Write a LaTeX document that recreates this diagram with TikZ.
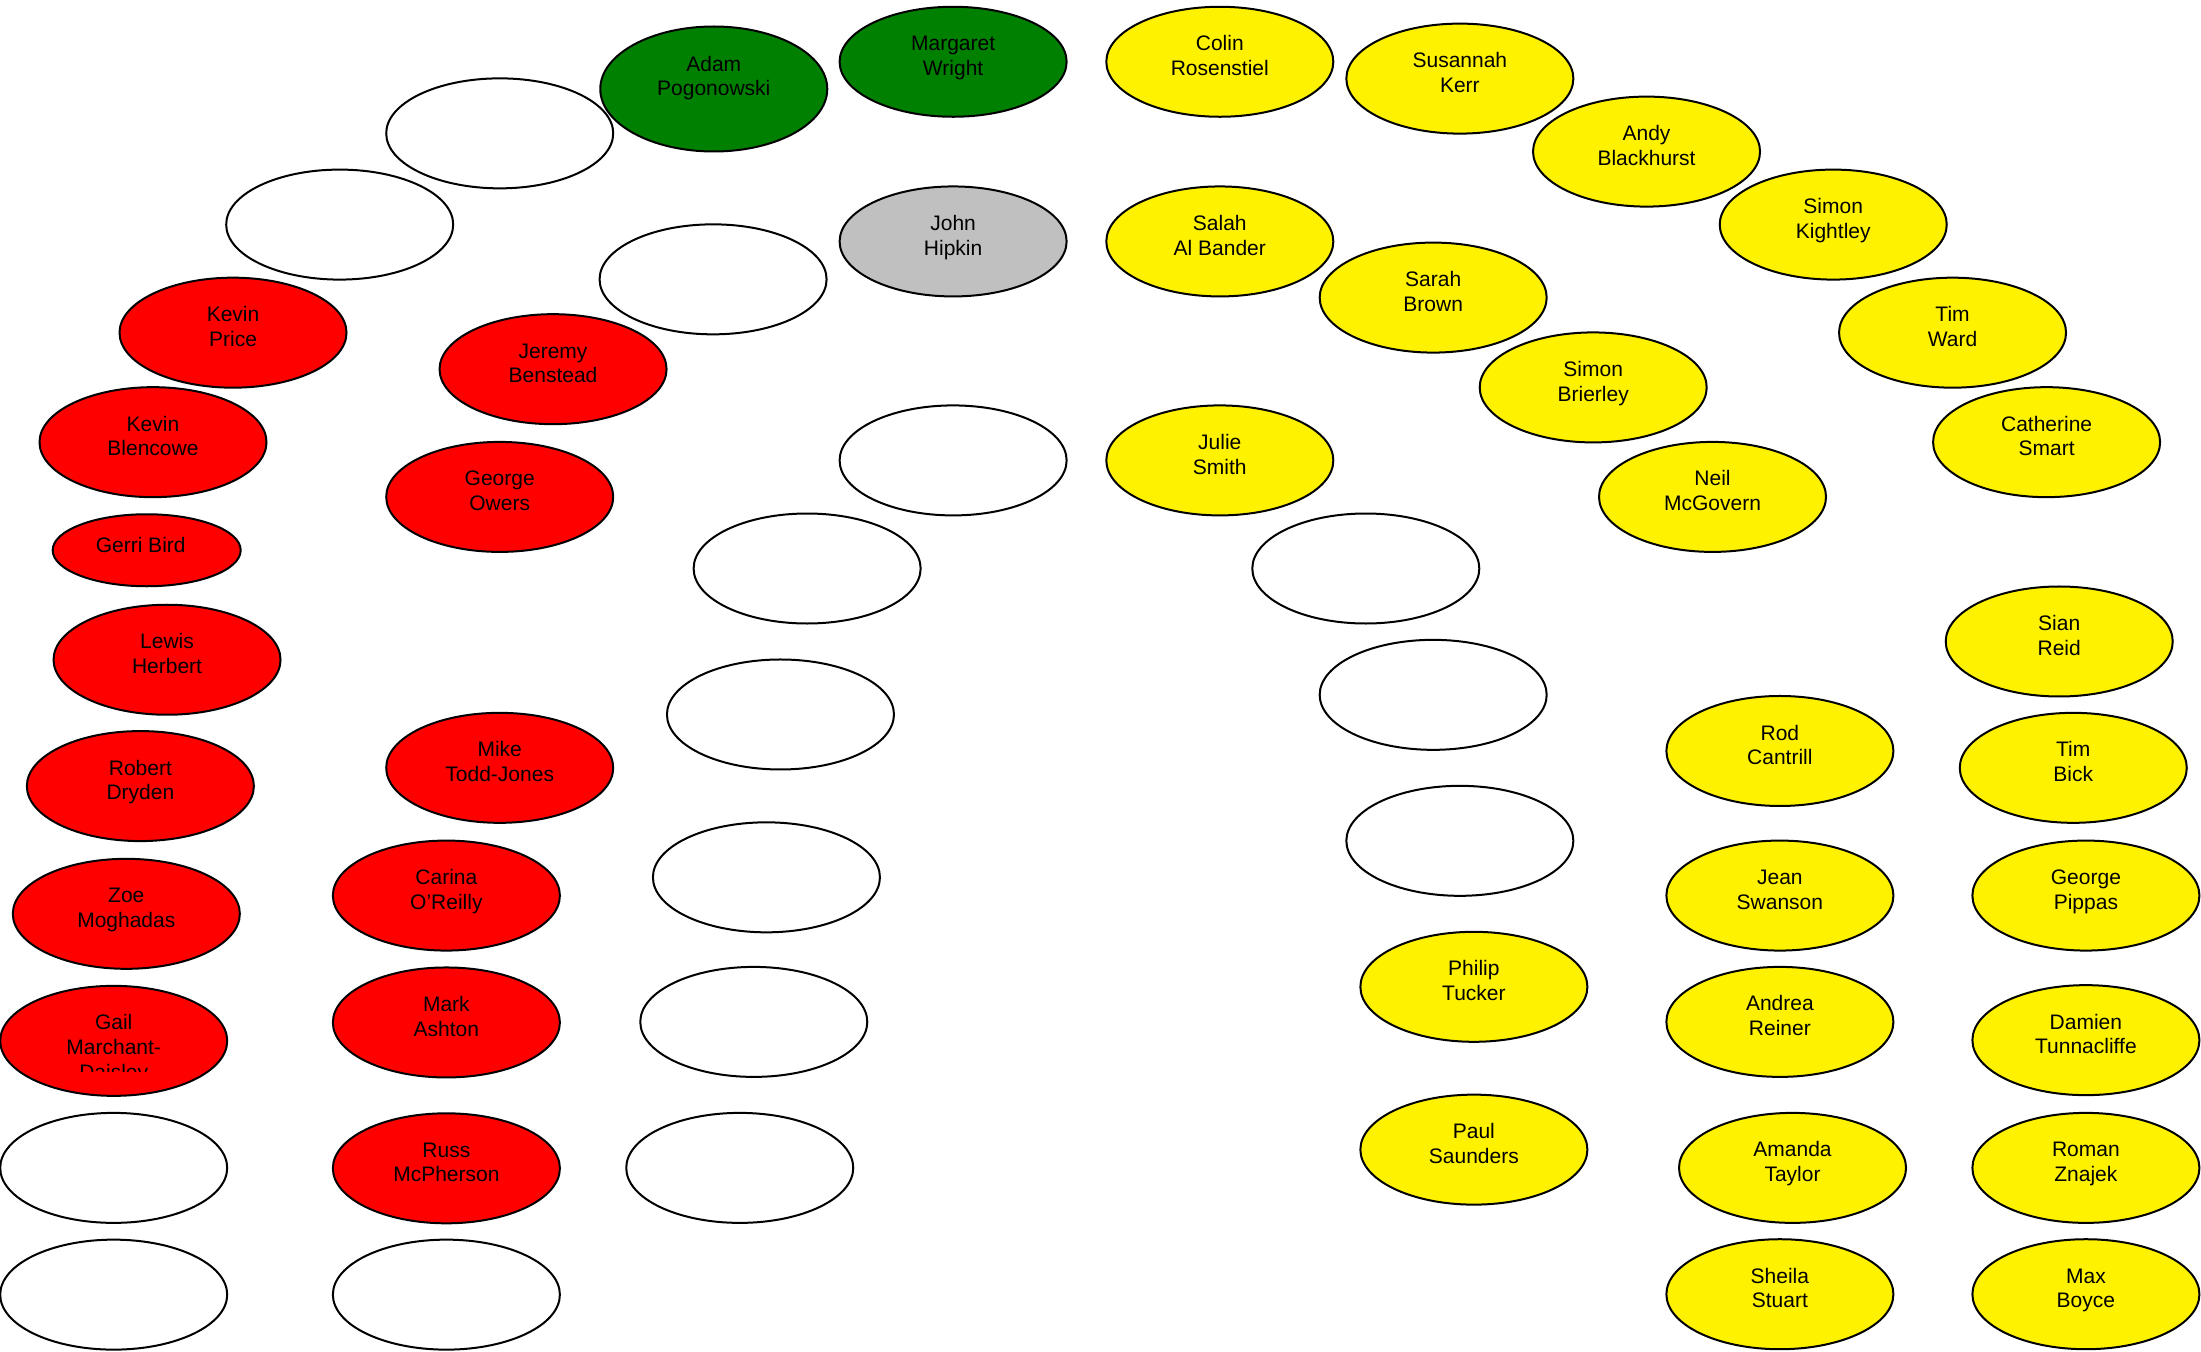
\documentclass[tikz,border=0pt]{standalone}
\usepackage{fontspec}
\setmainfont{Liberation Sans}
\usetikzlibrary{shapes.geometric}
\definecolor{grn}{RGB}{0,128,0}
\definecolor{silver}{RGB}{192,192,192}
\newcommand{\seatname}[2][28.2pt]{\parbox[c][#1][t]{78pt}{\centering\strut#2}}

\begin{document}
\begin{tikzpicture}[x=0.70185pt,y=-0.70185pt,
  seat/.style={ellipse,draw,line width=1pt,minimum width=113.5pt,minimum height=55pt,inner sep=0pt,font=\fontsize{10.5}{12.3}\selectfont},
  labour/.style={seat,fill=red},
  libdem/.style={seat,fill=yellow},
  greens/.style={seat,fill=grn},
  indep/.style={seat,fill=silver},
  vacant/.style={seat,fill=white}]
\useasboundingbox (0,0) rectangle (1568,963);

\node[greens,minimum height=62.5pt] (adam) at (508.5,63.4) {\seatname[35.2pt]{Adam\\Pogonowski}}; %green
\node[greens] (margaret) at (679,44) {\seatname{Margaret\\Wright}};
\node[indep] (hipkin) at (679,172) {\seatname{John\\Hipkin}}; %independent

\node[labour] (kprice) at (166,237) {\seatname{Kevin\\Price}}; %labour
\node[labour] (benstead) at (394,263) {\seatname{Jeremy\\Benstead}};
\node[labour] (blencowe) at (109,315) {\seatname{Kevin\\Blencowe}};
\node[labour] (owers) at (356,354) {\seatname{George\\Owers}};
\node[labour,minimum width=94pt,minimum height=36pt,text height=7.5pt,text depth=5.5pt] (bird) at (104.5,392) {Gerri Bird\kern6pt};
\node[labour] (herbert) at (119,470) {\seatname{Lewis\\Herbert}};
\node[labour] (dryden) at (100,560) {\seatname{Robert\\Dryden}};
\node[labour] (toddjones) at (356,547) {\seatname{Mike\\Todd-Jones}};
\node[labour] (moghadas) at (90,651) {\seatname{Zoe\\Moghadas}};
\node[labour] (oreilly) at (318,638) {\seatname{Carina\\O'Reilly}};
\node[labour] (gail) at (81,741.5) {};
\begin{scope}
\clip ([shift={(-50pt,-15.5pt)}]gail.center) rectangle ([shift={(50pt,30pt)}]gail.center);
\node[seat,draw=none] (gailtext) at (gail.center) {\seatname{Gail\\Marchant-\\Daisley}};
\end{scope}
\node[labour] (ashton) at (318,728.4) {\seatname{Mark\\Ashton}};
\node[labour] (mcpherson) at (318,832.3) {\seatname{Russ\\McPherson}};

\node[libdem] (rosenstiel) at (869,44) {\seatname{Colin\\Rosenstiel}}; %lib dem
\node[libdem] (kerr) at (1040,56) {\seatname{Susannah\\Kerr}};
\node[libdem] (blackhurst) at (1173,108) {\seatname{Andy\\Blackhurst}};
\node[libdem] (kightley) at (1306,160) {\seatname{Simon\\Kightley}};
\node[libdem] (albander) at (869,172) {\seatname{Salah\\Al Bander}};
\node[libdem] (brown) at (1021,212) {\seatname{Sarah\\Brown}};
\node[libdem] (ward) at (1391,237) {\seatname{Tim\\Ward}};
\node[libdem] (brierley) at (1135,276) {\seatname{Simon\\Brierley}};
\node[libdem] (smart) at (1458,315) {\seatname{Catherine\\Smart}};
\node[libdem] (smith) at (869,328) {\seatname{Julie\\Smith}};
\node[libdem] (mcgovern) at (1220,354) {\seatname{Neil\\McGovern}};
\node[libdem] (reid) at (1467,457) {\seatname{Sian\\Reid}};
\node[libdem] (cantrill) at (1268,535) {\seatname{Rod\\Cantrill}};
\node[libdem] (bick) at (1477,547) {\seatname{Tim\\Bick}};
\node[libdem] (swanson) at (1268,638) {\seatname{Jean\\Swanson}};
\node[libdem] (pippas) at (1486,638) {\seatname{George\\Pippas}};
\node[libdem] (tucker) at (1050,703) {\seatname{Philip\\Tucker}};
\node[libdem] (reiner) at (1268,728) {\seatname{Andrea\\Reiner}};
\node[libdem] (tunnacliffe) at (1486,741) {\seatname{Damien\\Tunnacliffe}};
\node[libdem] (saunders) at (1050,819) {\seatname{Paul\\Saunders}};
\node[libdem] (taylor) at (1277,832) {\seatname{Amanda\\Taylor}};
\node[libdem] (znajek) at (1486,832) {\seatname{Roman\\Znajek}};
\node[libdem] (stuart) at (1268,922) {\seatname{Sheila\\Stuart}};
\node[libdem] (boyce) at (1486,922) {\seatname{Max\\Boyce}};

\node[vacant] (empty1) at (356,95) {}; %empty seats
\node[vacant] (empty2) at (242,160) {};
\node[vacant] (empty3) at (508,199) {};
\node[vacant] (empty4) at (679,328) {};
\node[vacant] (empty5) at (575,405) {};
\node[vacant] (empty6) at (556,509) {};
\node[vacant] (empty7) at (546,625) {};
\node[vacant] (empty8) at (537,728) {};
\node[vacant] (empty9) at (527,832) {};
\node[vacant] (empty10) at (81,832) {};
\node[vacant] (empty11) at (81,922.3) {};
\node[vacant] (empty12) at (318,922.3) {};
\node[vacant] (empty13) at (973,405) {};
\node[vacant] (empty14) at (1021,495) {};
\node[vacant] (empty15) at (1040,599) {};
\end{tikzpicture}
\end{document}
